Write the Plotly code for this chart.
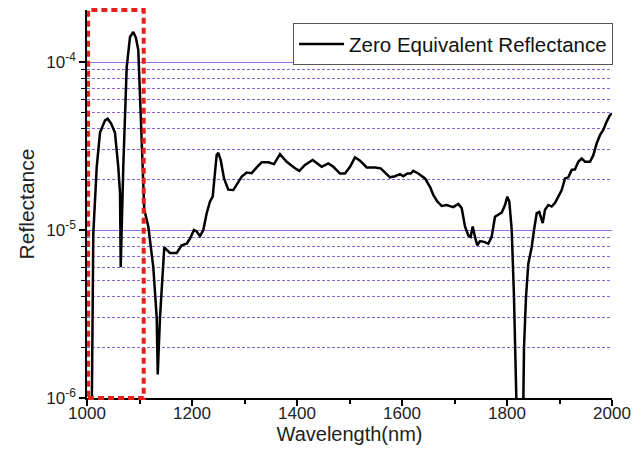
import plotly.graph_objects as go

wavelength = [1000, 1005, 1009, 1012, 1018.5, 1024.8, 1034.3, 1039.4, 1046, 1053.3,
              1059.6, 1062.9, 1064.2, 1066, 1069.1, 1075.6, 1081.9, 1088.2, 1093, 1097.7,
              1104.2, 1109.1, 1116.8, 1126.3, 1132.8, 1134.7, 1139, 1143, 1147.2, 1150.5,
              1158, 1170.8, 1180.3, 1189.9, 1196.2, 1203.8, 1208.9, 1215.2, 1221.5, 1228,
              1234.3, 1239.4, 1243.8, 1247, 1250.1, 1254.7, 1261, 1269.2, 1278.7, 1286.3,
              1294.7, 1304.2, 1313.7, 1323.2, 1332.8, 1345.3, 1356.2, 1367.6, 1380.3, 1396.2,
              1404.4, 1415.2, 1429.9, 1447, 1459.7, 1469.2, 1481.9, 1491.4, 1501, 1510.5,
              1520, 1532.8, 1548.6, 1559.4, 1567.6, 1577.1, 1586.7, 1596.2, 1602.5, 1610.1,
              1616.5, 1621.5, 1631, 1643.8, 1653.3, 1659.6, 1667.2, 1675.6, 1685.1, 1697.7,
              1707.2, 1713.7, 1720, 1726.3, 1730.8, 1734.6, 1739, 1743.4, 1748.6, 1756.2,
              1764.4, 1770.8, 1777.1, 1783.4, 1789.9, 1796.2, 1800.6, 1804.4, 1809, 1813.3,
              1817.1, 1820, 1825, 1830, 1832.4, 1836.2, 1840.6, 1847, 1851.4, 1856.6,
              1861.5, 1868, 1872.4, 1878.7, 1885.1, 1891.4, 1897.7, 1904.2, 1910.5, 1916.8,
              1923.2, 1929.5, 1935.8, 1942.3, 1948.6, 1958, 1964.4, 1970.8, 1977.1, 1983.4,
              1989.9, 1996.2, 2000]

reflectance = [4e-7, 4e-7, 8e-7, 9.5e-6, 2.37e-5, 3.8e-5, 4.5e-5, 4.6e-5, 4.3e-5, 3.8e-5,
               2.37e-5, 1.66e-5, 6.0e-6, 1.2e-5, 2.37e-5, 9.3e-5, 1.41e-4, 1.51e-4, 1.40e-4, 1.18e-4,
               3.8e-5, 1.32e-5, 1.05e-5, 6.0e-6, 3.0e-6, 1.38e-6, 3.0e-6, 4.6e-6, 7.9e-6, 7.7e-6,
               7.3e-6, 7.3e-6, 8.1e-6, 8.3e-6, 8.9e-6, 1.0e-5, 9.8e-6, 9.2e-6, 1.0e-5, 1.26e-5,
               1.48e-5, 1.58e-5, 2.18e-5, 2.8e-5, 2.88e-5, 2.61e-5, 2.03e-5, 1.74e-5, 1.73e-5, 1.9e-5,
               2.08e-5, 2.2e-5, 2.18e-5, 2.36e-5, 2.53e-5, 2.53e-5, 2.47e-5, 2.83e-5, 2.55e-5, 2.33e-5,
               2.25e-5, 2.44e-5, 2.61e-5, 2.38e-5, 2.49e-5, 2.38e-5, 2.17e-5, 2.17e-5, 2.38e-5, 2.71e-5,
               2.59e-5, 2.36e-5, 2.36e-5, 2.33e-5, 2.19e-5, 2.06e-5, 2.09e-5, 2.15e-5, 2.09e-5, 2.17e-5,
               2.17e-5, 2.25e-5, 2.17e-5, 2.03e-5, 1.81e-5, 1.62e-5, 1.48e-5, 1.39e-5, 1.41e-5, 1.37e-5,
               1.43e-5, 1.35e-5, 1.05e-5, 9.3e-6, 9.1e-6, 1.05e-5, 9.1e-6, 8.1e-6, 8.6e-6, 8.5e-6,
               8.3e-6, 9.1e-6, 1.2e-5, 1.24e-5, 1.27e-5, 1.41e-5, 1.58e-5, 1.48e-5, 1.0e-5, 4.0e-6,
               1.6e-6, 5e-7, 4e-7, 5e-7, 2.0e-6, 4.0e-6, 6.3e-6, 7.9e-6, 1.0e-5, 1.26e-5,
               1.28e-5, 1.1e-5, 1.32e-5, 1.41e-5, 1.38e-5, 1.45e-5, 1.58e-5, 1.73e-5, 2.03e-5, 2.06e-5,
               2.28e-5, 2.3e-5, 2.55e-5, 2.67e-5, 2.55e-5, 2.55e-5, 2.79e-5, 3.28e-5, 3.67e-5, 3.94e-5,
               4.42e-5, 4.84e-5, 4.95e-5]

assert len(wavelength) == len(reflectance), (len(wavelength), len(reflectance))

y_major_vals = [1e-6, 1e-5, 1e-4]
y_major_text = ["10<sup>-6</sup>", "10<sup>-5</sup>", "10<sup>-4</sup>"]
y_minor_vals = [m * d for d in (1e-6, 1e-5) for m in range(2, 10)]

highlight_x = [1002, 1108]

FONT = "Liberation Sans, Arial, sans-serif"

fig = go.Figure()
fig.add_trace(go.Scatter(
    x=wavelength, y=reflectance, mode="lines",
    name="Zero Equivalent Reflectance",
    line=dict(color="black", width=2.5),
))

fig.add_shape(type="rect", xref="x", yref="paper",
              x0=highlight_x[0], x1=highlight_x[1], y0=0, y1=1,
              line=dict(color="#e8201c", width=4, dash="6px,4px"),
              layer="above")

fig.update_layout(
    width=643, height=463,
    margin=dict(l=87, r=31, t=10, b=65),
    paper_bgcolor="white", plot_bgcolor="white",
    font=dict(family=FONT, color="#222222", size=17),
    showlegend=True,
    legend=dict(x=1.002, xanchor="right", y=0.966, yanchor="top",
                bordercolor="#555555", borderwidth=1, bgcolor="white",
                itemwidth=45,
                font=dict(size=20.5, family=FONT, color="#111111")),
    xaxis=dict(
        range=[1000, 2000], tick0=1000, dtick=200,
        showline=True, linecolor="black", linewidth=1.5,
        ticks="outside", ticklen=6, tickwidth=1.5, tickcolor="black",
        ticklabelstandoff=-7,
        showgrid=False, zeroline=False,
        minor=dict(dtick=100, ticks="outside", ticklen=4, tickwidth=1.5, tickcolor="black", showgrid=False),
        tickfont=dict(size=17),
        title=dict(text="Wavelength(nm)", font=dict(size=20), standoff=4),
    ),
    yaxis=dict(
        type="log", range=[-6, -3.69],
        tickmode="array", tickvals=y_major_vals, ticktext=y_major_text,
        showline=True, linecolor="black", linewidth=1.5,
        ticks="outside", ticklen=6, tickwidth=1.5, tickcolor="black",
        showgrid=True, gridcolor="#9b6fe3", gridwidth=1.2,
        zeroline=False,
        minor=dict(tickmode="array", tickvals=y_minor_vals, ticks="outside", ticklen=4,
                   tickwidth=1.2, tickcolor="black", showgrid=True,
                   gridcolor="#8a63d2", gridwidth=1, griddash="3px,2px"),
        tickfont=dict(size=17),
        title=dict(text="Reflectance", font=dict(size=21), standoff=6),
    ),
)

fig.write_html("out.html")
